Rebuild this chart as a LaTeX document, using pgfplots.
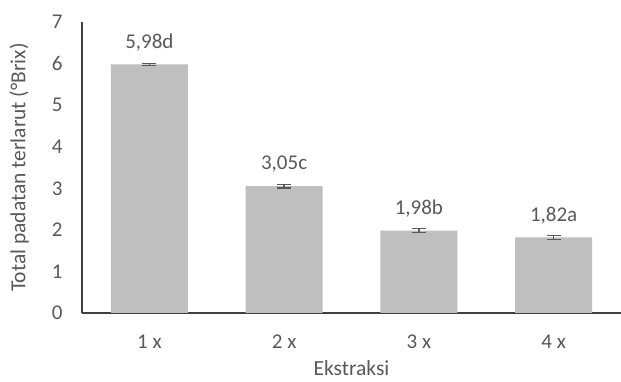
\documentclass[border=0pt]{standalone}
\usepackage{pgfplots}
\pgfplotsset{compat=1.18}
\usepackage{pgfplotstable}
\usepackage{fontspec}
\setmainfont{Carlito}
\usetikzlibrary{calc}

\definecolor{barfill}{HTML}{BFBFBF}
\definecolor{axisline}{HTML}{404040}
\definecolor{textgray}{HTML}{595959}

% extraction repetitions: mean, std. error, label with significance letter
\pgfplotstableread{
x y err label
0 5.98 0.02 5,98d
1 3.05 0.04 3,05c
2 1.98 0.05 1,98b
3 1.82 0.05 1,82a
}\data

\begin{document}
\begin{tikzpicture}
\begin{axis}[
  scale only axis,
  width=539pt, height=291pt,
  xmin=-0.5, xmax=3.5,
  ymin=0, ymax=7,
  axis lines*=left,
  axis line style={axisline, line width=1.4pt},
  xtick={0,1,2,3},
  xticklabels={1 x,2 x,3 x,4 x},
  ytick={0,1,...,7},
  major tick length=0pt,
  /pgf/number format/assume math mode=true,
  tick label style={font=\fontsize{21}{24}\selectfont, text=textgray},
  yticklabel style={xshift=-16pt},
  xticklabel style={yshift=-18pt},
  label style={font=\fontsize{21.5}{25}\selectfont, text=textgray},
  ylabel={Total padatan terlarut (°Brix)},
  xlabel={Ekstraksi},
  ylabel style={yshift=16pt},
  xlabel style={inner sep=0pt, yshift=-9pt},
  clip=false,
]
\addplot[
  ybar, bar width=77pt,
  fill=barfill, draw=none,
  error bars/.cd, y dir=both, y explicit,
  error bar style={textgray, line width=1.3pt},
  error mark options={rotate=90, mark size=7pt, textgray, line width=1.3pt},
] table[x=x, y=y, y error=err] {\data};
\addplot[
  only marks, mark=none,
  nodes near coords,
  point meta=explicit symbolic,
  every node near coord/.style={font=\fontsize{21}{24}\selectfont, text=textgray, anchor=south, yshift=10pt},
] table[x=x, y=y, meta=label] {\data};
\end{axis}
\pgfresetboundingbox
\path[use as bounding box] ($(current axis.south west)+(-82pt,-69pt)$) rectangle ($(current axis.north east)+(0pt,22pt)$);
\end{tikzpicture}
\end{document}
